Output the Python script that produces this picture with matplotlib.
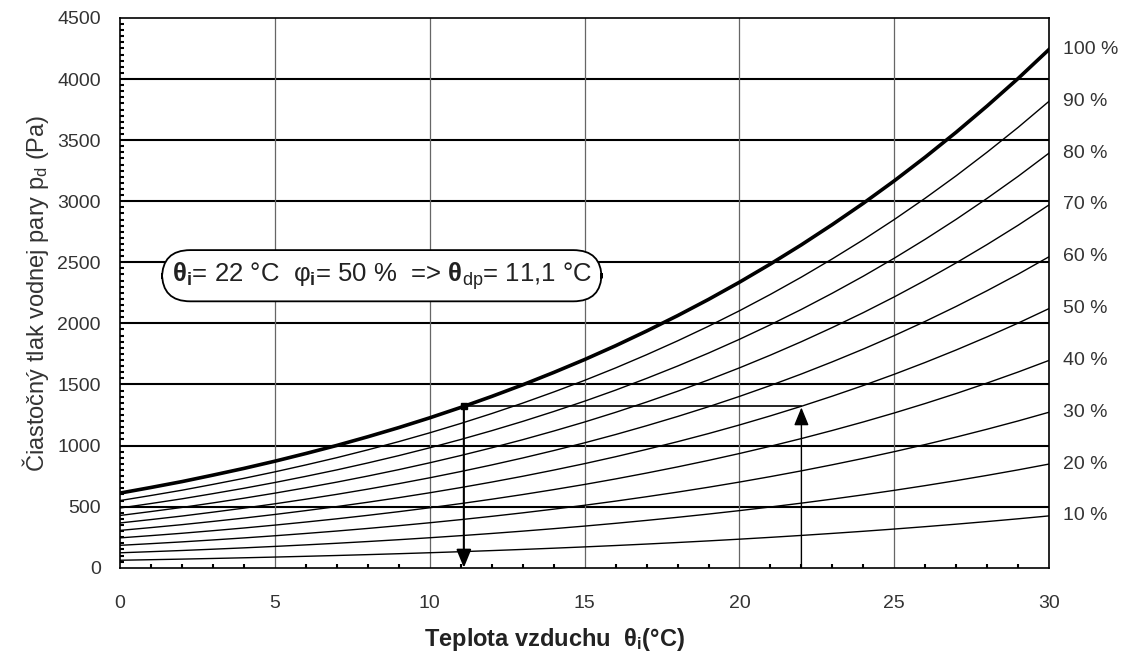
import matplotlib.pyplot as plt
import numpy as np

plt.rcParams['font.family'] = ['Liberation Sans', 'DejaVu Sans']
plt.rcParams['mathtext.fontset'] = 'custom'
plt.rcParams['mathtext.rm'] = 'Liberation Sans'
plt.rcParams['mathtext.it'] = 'Liberation Sans'
plt.rcParams['mathtext.bf'] = 'Liberation Sans:bold'

# air temperature (degC) and saturated vapour pressure (Pa)
temp = [0, 1, 2, 3, 4, 5, 6, 7, 8, 9, 10, 11, 12, 13, 14, 15, 16, 17, 18, 19, 20,
        21, 22, 23, 24, 25, 26, 27, 28, 29, 30]
p_sat = [611, 657, 705, 758, 813, 872, 935, 1001, 1072, 1147, 1227, 1312, 1402, 1497,
         1598, 1704, 1817, 1937, 2063, 2196, 2337, 2486, 2643, 2809, 2983, 3167, 3361,
         3565, 3780, 4005, 4243]
# relative humidity levels
rh = [100, 90, 80, 70, 60, 50, 40, 30, 20, 10]
rh_labels = ['100 %', '90 %', '80 %', '70 %', '60 %', '50 %', '40 %', '30 %', '20 %', '10 %']

# worked example
theta_i = 22
phi_i = 50
theta_dp = 11.1

temp = np.array(temp)
p_sat = np.array(p_sat)

fig = plt.figure(figsize=(11.33, 6.64), dpi=100)
ax = fig.add_axes([0.106, 0.145, 0.820, 0.828])

#grid
for yv in range(500, 4500, 500):
    ax.axhline(yv, color='black', linewidth=1.5, zorder=1)
for xv in range(5, 30, 5):
    ax.axvline(xv, color='#666666', linewidth=0.9, zorder=1)

#curves
for r, lab in zip(rh, rh_labels):
    pv = p_sat * r / 100.0
    ax.plot(temp, pv, color='black', linewidth=2.6 if r == 100 else 1.0, zorder=3)
    ax.text(30.45, pv[-1], lab, fontsize=14, color='#333333', va='center', ha='left',
            clip_on=False)

#example construction
p_i = p_sat[list(temp).index(theta_i)] * phi_i / 100.0
ax.plot([theta_dp, theta_i], [p_i, p_i], color='black', linewidth=1.2, zorder=4)
ax.annotate('', xy=(theta_i, p_i - 10), xytext=(theta_i, 0),
            arrowprops=dict(arrowstyle='-|>,head_length=1.1,head_width=0.45',
                            color='black', linewidth=1.0, shrinkA=0, shrinkB=0), zorder=5)
ax.annotate('', xy=(theta_dp, 0), xytext=(theta_dp, p_i),
            arrowprops=dict(arrowstyle='-|>,head_length=1.1,head_width=0.45',
                            color='black', linewidth=1.5, shrinkA=0, shrinkB=0), zorder=5)
ax.plot([theta_dp], [p_i], 's', color='black', markersize=4, zorder=5)

box_txt = (r'$\mathbf{θ_i}$= %d °C  $φ_\mathbf{i}$= %d %%  => $\mathbf{θ}_{dp}$= %s °C'
           % (theta_i, phi_i, str(theta_dp).replace('.', ',')))
ax.text(8.45, 2390, box_txt, fontsize=18.5, color='#222222', ha='center', va='center',
        zorder=6,
        bbox=dict(boxstyle='round,pad=0.38,rounding_size=1.1', fc='white', ec='black',
                  linewidth=1.3))

ax.set_xlim(0, 30)
ax.set_ylim(0, 4500)
ax.set_xticks(range(0, 31, 5))
ax.set_xticks(range(0, 31, 1), minor=True)
ax.set_yticks(range(0, 4501, 500))
ax.set_yticks(range(0, 4501, 50), minor=True)
ax.tick_params(axis='x', which='major', direction='in', length=0, pad=20, labelsize=14,
               labelcolor='#333333')
ax.tick_params(axis='x', which='minor', direction='in', length=3, width=1.5)
ax.tick_params(axis='y', which='major', direction='in', length=0, pad=14, labelsize=14,
               labelcolor='#333333')
ax.tick_params(axis='y', which='minor', direction='in', length=3, width=1.5)
for s in ax.spines.values():
    s.set_linewidth(1.2)
    s.set_zorder(7)

ax.set_xlabel(r'Teplota vzduchu  $\mathbf{θ}_\mathbf{i}$(°C)', fontsize=17,
              fontweight='bold', labelpad=10, color='#222222')
ax.xaxis.label.set_x(0.468)
ax.set_ylabel(r'Čiastočný tlak vodnej pary p$_d$ (Pa)', fontsize=17, labelpad=4,
              color='#333333')

fig.savefig('out.png', dpi=100)
